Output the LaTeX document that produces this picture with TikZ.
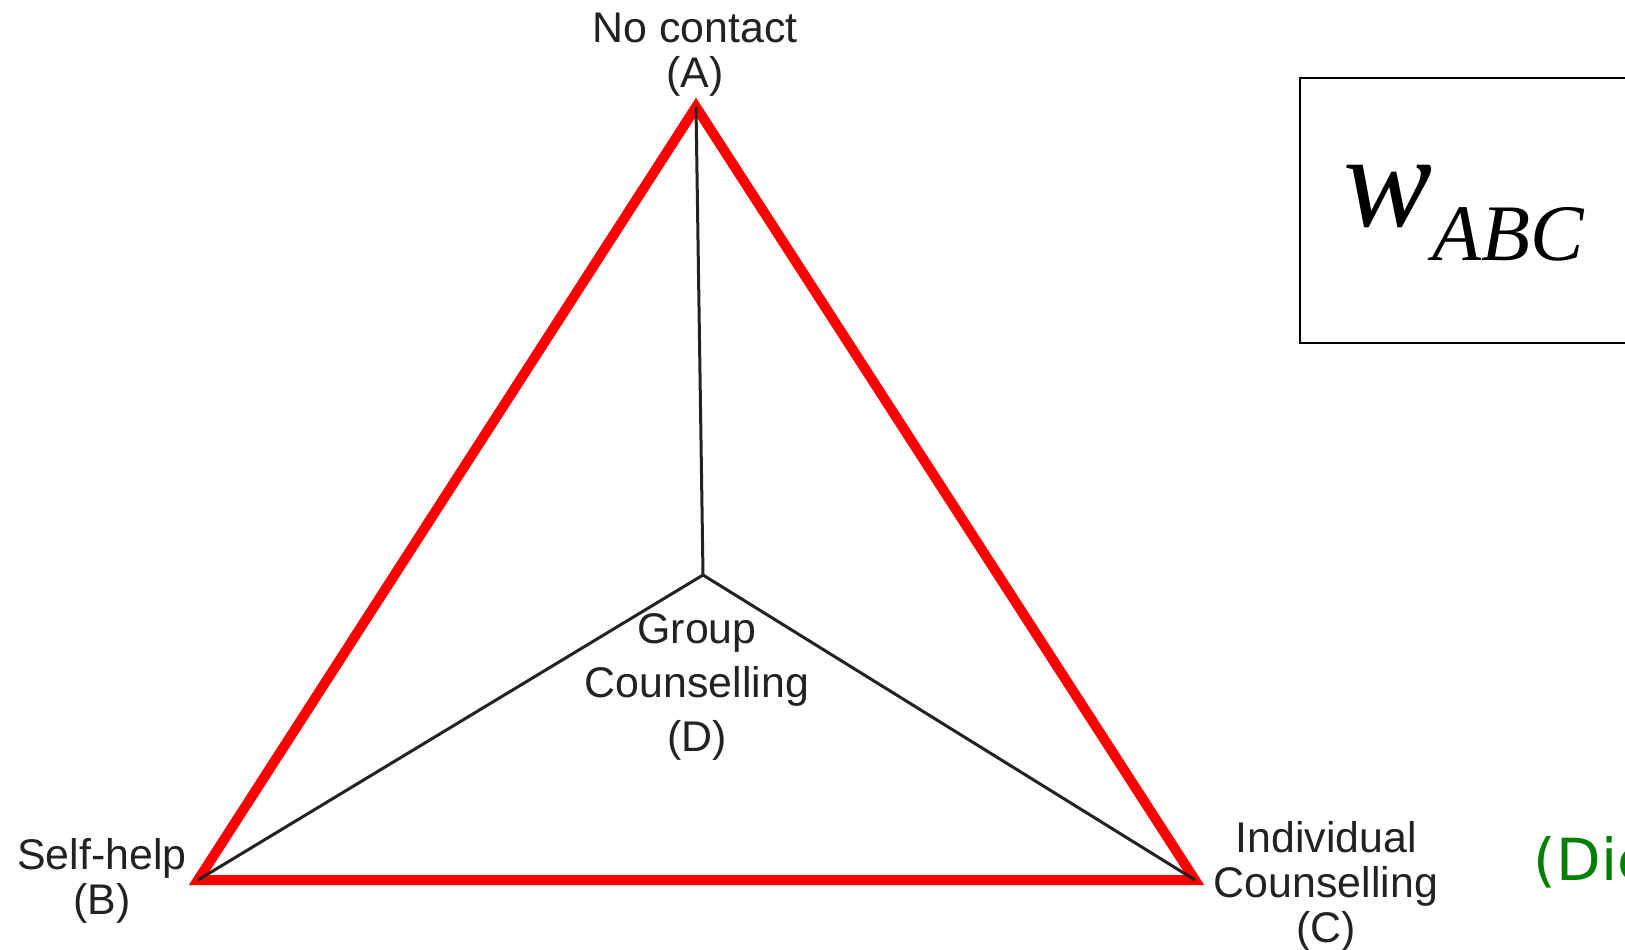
\documentclass[tikz,border=0pt]{standalone}
\usepackage{fontspec}
\setmainfont{Liberation Sans}
\newfontfamily\boxfont{Liberation Serif}
\newfontfamily\notefont{DejaVu Sans}
\usetikzlibrary{positioning}
\definecolor{labelgray}{HTML}{222222}
\definecolor{notegreen}{HTML}{008000}

\begin{document}
\begin{tikzpicture}[
      x=0.1mm, y=-0.1mm,
      every node/.style={font=\fontsize{12.2}{12.8}\selectfont, text=labelgray, inner sep=0pt, align=center},
      side/.style={draw=red, line width=1mm},
      spoke/.style={draw=labelgray, line width=0.3mm},
    ]
    \clip (0,0) rectangle (1625,950);

    % corners of the simplex and the inner point
    \coordinate (A) at (696,107);
    \coordinate (B) at (198,880);
    \coordinate (C) at (1195,880);
    \coordinate (D) at (703,575);

    \draw[side] (A) -- (B) -- (C) -- cycle;
    \draw[spoke] (A) -- (D);
    \draw[spoke] (B) -- (D);
    \draw[spoke] (C) -- (D);

    \node (labA) at (695,55) {No contact\\(A)};
    \node (labB) at (102,881) {Self-help\\(B)};
    \node (labC) at (1326,886) {Individual\\Counselling\\(C)};
    \node[font=\fontsize{12.2}{15.4}\selectfont] (labD) at (697,687) {Group\\Counselling\\(D)};

    % weight box
    \draw[line width=0.22mm] (1300,78) rectangle (1700,343);
    \node[anchor=base west, text=black] (wabc) at (1343,227)
      {\boxfont\itshape\fontsize{38}{38}\selectfont w\raisebox{-9.4pt}{\fontsize{22.8}{22.8}\selectfont ABC}};

    \node[anchor=base west, text=notegreen, font=\notefont\fontsize{16.5}{16.5}\selectfont] (note) at (1533,880) {(Dic};
  \end{tikzpicture}
\end{document}
